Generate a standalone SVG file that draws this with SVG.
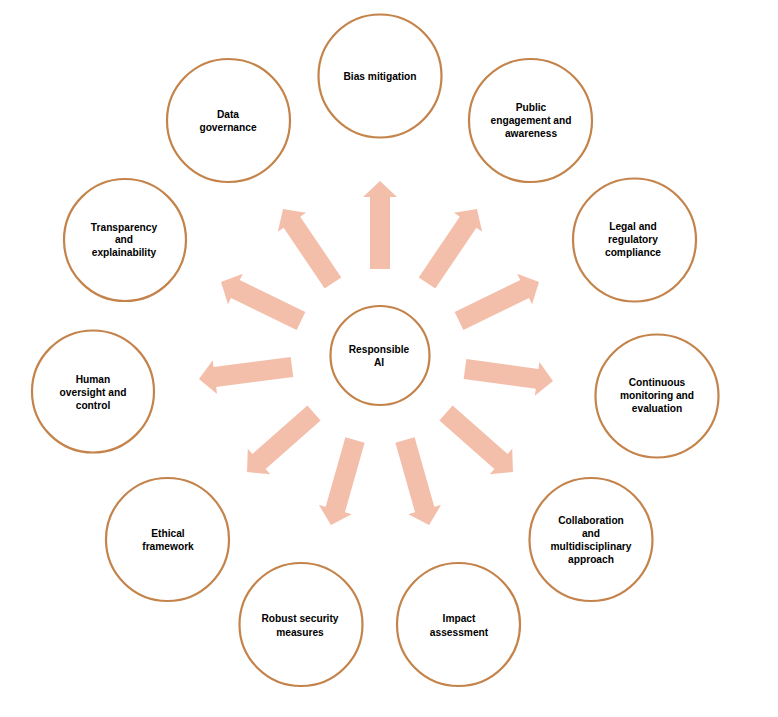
<svg xmlns="http://www.w3.org/2000/svg" width="778" height="717" viewBox="0 0 778 717">
<style>
.node{fill:#ffffff;stroke:#c4834a;stroke-width:2.2}
.arrow{fill:#f4bfaa;stroke:none}
text{font-family:"Liberation Sans",Arial,sans-serif;font-weight:bold;font-size:10.2px;fill:#000;text-anchor:middle}
</style>
<rect width="778" height="717" fill="#ffffff"/>
<g id="connectors">
<path class="arrow" transform="translate(380,269) rotate(-90)" d="M0,-10 H72 V-17 L88,0 L72,17 V10 H0 Z"/>
<path class="arrow" transform="translate(427,283) rotate(-55.95)" d="M0,-10 H73.3 V-17 L89.3,0 L73.3,17 V10 H0 Z"/>
<path class="arrow" transform="translate(333,283) rotate(-124.05)" d="M0,-10 H73.3 V-17 L89.3,0 L73.3,17 V10 H0 Z"/>
<path class="arrow" transform="translate(459,321) rotate(-26)" d="M0,-10 H73 V-17 L89,0 L73,17 V10 H0 Z"/>
<path class="arrow" transform="translate(301,321) rotate(-154)" d="M0,-10 H73 V-17 L89,0 L73,17 V10 H0 Z"/>
<path class="arrow" transform="translate(465,369) rotate(7.77)" d="M0,-10 H72.8 V-17 L88.8,0 L72.8,17 V10 H0 Z"/>
<path class="arrow" transform="translate(292,367) rotate(172.6)" d="M0,-10 H77.8 V-17 L93.8,0 L77.8,17 V10 H0 Z"/>
<path class="arrow" transform="translate(314,413) rotate(138.6)" d="M0,-10 H73.3 V-17 L89.3,0 L73.3,17 V10 H0 Z"/>
<path class="arrow" transform="translate(355,440) rotate(105.8)" d="M0,-10 H72.3 V-17 L88.3,0 L72.3,17 V10 H0 Z"/>
<path class="arrow" transform="translate(405,440) rotate(74.2)" d="M0,-10 H72.3 V-17 L88.3,0 L72.3,17 V10 H0 Z"/>
<path class="arrow" transform="translate(446,413) rotate(41.4)" d="M0,-10 H73.3 V-17 L89.3,0 L73.3,17 V10 H0 Z"/>
</g>
<g id="center">
<circle class="node" cx="380" cy="355.5" r="49.5"/>
<text x="379" y="353">Responsible</text>
<text x="379" y="366">AI</text>
</g>
<g id="bias">
<circle class="node" cx="380" cy="76" r="61.5"/>
<text x="380" y="80">Bias mitigation</text>
</g>
<g id="public">
<circle class="node" cx="530.5" cy="120.5" r="61.5"/>
<text x="531" y="111">Public</text>
<text x="531" y="124">engagement and</text>
<text x="531" y="137">awareness</text>
</g>
<g id="legal">
<circle class="node" cx="634.5" cy="240" r="61.5"/>
<text x="633" y="230">Legal and</text>
<text x="633" y="243">regulatory</text>
<text x="633" y="256">compliance</text>
</g>
<g id="continuous">
<circle class="node" cx="657" cy="396" r="61.5"/>
<text x="657" y="386">Continuous</text>
<text x="657" y="399">monitoring and</text>
<text x="657" y="412">evaluation</text>
</g>
<g id="collaboration">
<circle class="node" cx="591" cy="539.5" r="61.5"/>
<text x="591" y="524">Collaboration</text>
<text x="591" y="537">and</text>
<text x="591" y="550">multidisciplinary</text>
<text x="591" y="563">approach</text>
</g>
<g id="impact">
<circle class="node" cx="458.5" cy="624.5" r="61.5"/>
<text x="459" y="622">Impact</text>
<text x="459" y="636">assessment</text>
</g>
<g id="robust">
<circle class="node" cx="301" cy="624.5" r="61.5"/>
<text x="300" y="622">Robust security</text>
<text x="300" y="636">measures</text>
</g>
<g id="ethical">
<circle class="node" cx="167.5" cy="539.5" r="61.5"/>
<text x="168" y="537">Ethical</text>
<text x="168" y="550">framework</text>
</g>
<g id="human">
<circle class="node" cx="93" cy="391.5" r="61"/>
<text x="93" y="383">Human</text>
<text x="93" y="396">oversight and</text>
<text x="93" y="409">control</text>
</g>
<g id="transparency">
<circle class="node" cx="125" cy="240" r="61"/>
<text x="124" y="231">Transparency</text>
<text x="124" y="243">and</text>
<text x="124" y="256">explainability</text>
</g>
<g id="data">
<circle class="node" cx="228.5" cy="120.5" r="61.5"/>
<text x="228" y="118">Data</text>
<text x="228" y="131">governance</text>
</g>
</svg>
